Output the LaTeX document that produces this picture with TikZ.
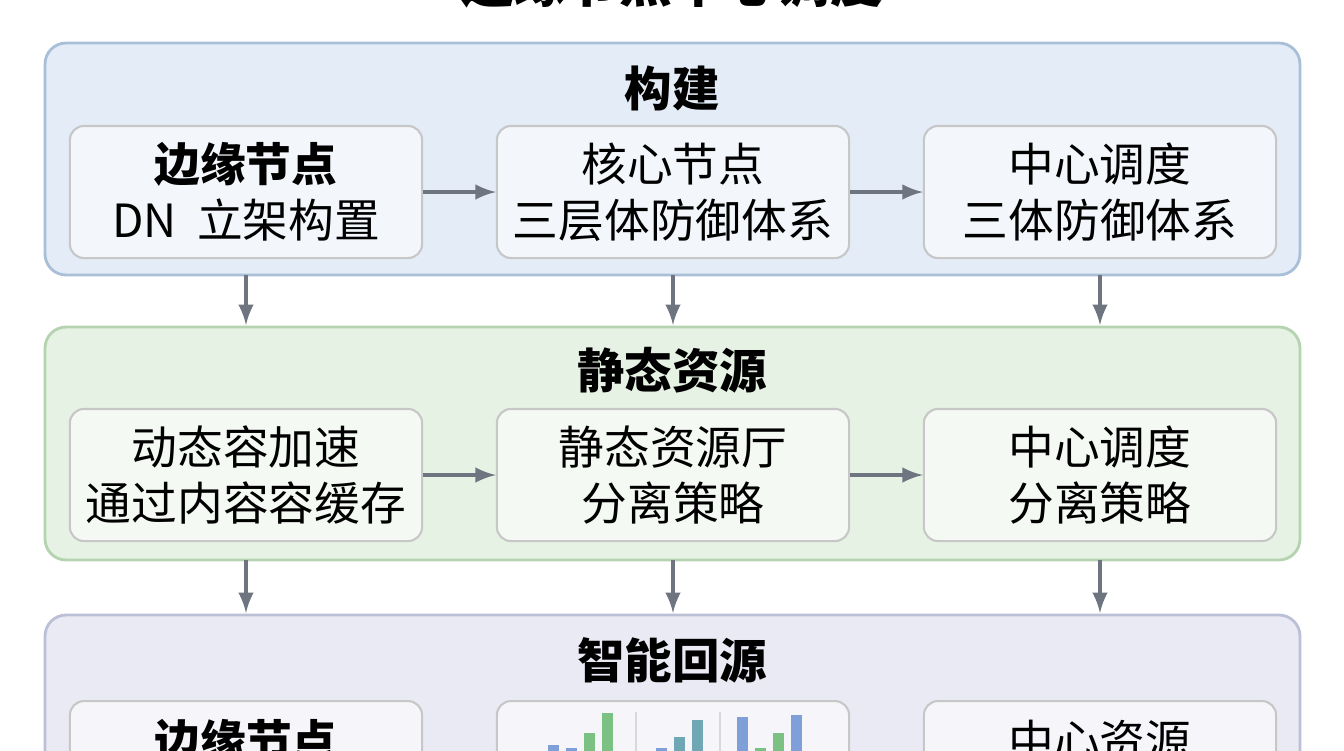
\documentclass[tikz,border=0pt]{standalone}
\usepackage{fontspec}
\setmainfont{Noto Sans CJK SC}
\definecolor{bluefill}{HTML}{E3ECF7}
\definecolor{blueline}{HTML}{A9BFD8}
\definecolor{greenfill}{HTML}{E6F2E4}
\definecolor{greenline}{HTML}{B5D3B0}
\definecolor{lavfill}{HTML}{E9EAF4}
\definecolor{lavline}{HTML}{BCC0D6}
\definecolor{arrowgray}{HTML}{6E7580}
\definecolor{barblue}{HTML}{7E9FD8}
\definecolor{bargreen}{HTML}{7CC184}
\definecolor{barteal}{HTML}{6FA8B4}
\begin{document}
\begin{tikzpicture}[x=0.01cm,y=-0.01cm,>=latex]
        \tikzstyle{panel}=[rounded corners=6pt,line width=0.8pt]
        \tikzstyle{box}=[draw=black!22,fill=white,fill opacity=0.6,text opacity=1,rounded corners=4pt,line width=0.6pt,minimum width=3.52cm,minimum height=1.32cm,align=center,font=\fontsize{13}{16}\selectfont]
        \tikzstyle{head}=[font=\fontsize{13.5}{15}\selectfont\bfseries]
        \tikzstyle{link}=[draw=arrowgray,line width=1pt,->]
       \useasboundingbox (0,0) rectangle (1344,750);
       \clip (0,0) rectangle (1344,750);
       \node [font=\fontsize{15}{16}\selectfont\bfseries,anchor=base] (title) at (672,2) {边缘节点中心调度};
       % panel 1
       \draw [panel,fill=bluefill,draw=blueline] (45,43) rectangle (1300,275);
       \node [head] (h1) at (672,88) {构建};
       \node [box] (a1) at (246,192) {\textbf{边缘节点}\\DN\ \ 立架构置};
       \node [box] (a2) at (673,192) {核心节点\\三层体防御体系};
       \node [box] (a3) at (1100,192) {中心调度\\三体防御体系};
       \path[link] (a1) -- (a2);
       \path[link] (a2) -- (a3);
       % panel 2
       \draw [panel,fill=greenfill,draw=greenline] (45,327) rectangle (1300,560);
       \node [head] (h2) at (672,370) {静态资源};
       \node [box] (b1) at (246,475) {动态容加速\\通过内容容缓存};
       \node [box] (b2) at (673,475) {静态资源厅\\分离策略};
       \node [box] (b3) at (1100,475) {中心调度\\分离策略};
       \path[link] (b1) -- (b2);
       \path[link] (b2) -- (b3);
       % panel 3
       \draw [panel,fill=lavfill,draw=lavline] (45,615) rectangle (1300,900);
       \node [head] (h3) at (672,660) {智能回源};
       \node [box,anchor=north] (c1) at (246,700) {\textbf{边缘节点}\\\ };
       \node [box,anchor=north] (c2) at (673,700) {\\\ };
       \node [box,anchor=north] (c3) at (1100,700) {中心资源\\\ };
       \foreach \x/\h/\c in {548/745/barblue,566/748/barblue,584/733/bargreen,602/713/bargreen,656/748/barblue,674/737/barteal,692/720/barteal,737/717/barblue,755/748/bargreen,773/733/bargreen,791/715/barblue}
         \fill [\c] (\x,\h) rectangle (\x+11,760);
       \draw [black!15] (636,712) -- (636,760) (720,712) -- (720,760);
       % links between panels
       \foreach \x in {246,673,1100} {
         \coordinate (u\x) at (\x,275);
         \coordinate (v\x) at (\x,325);
         \coordinate (p\x) at (\x,560);
         \coordinate (q\x) at (\x,613);
         \path[link] (u\x) -- (v\x);
         \path[link] (p\x) -- (q\x);
       }
\end{tikzpicture}
\end{document}
